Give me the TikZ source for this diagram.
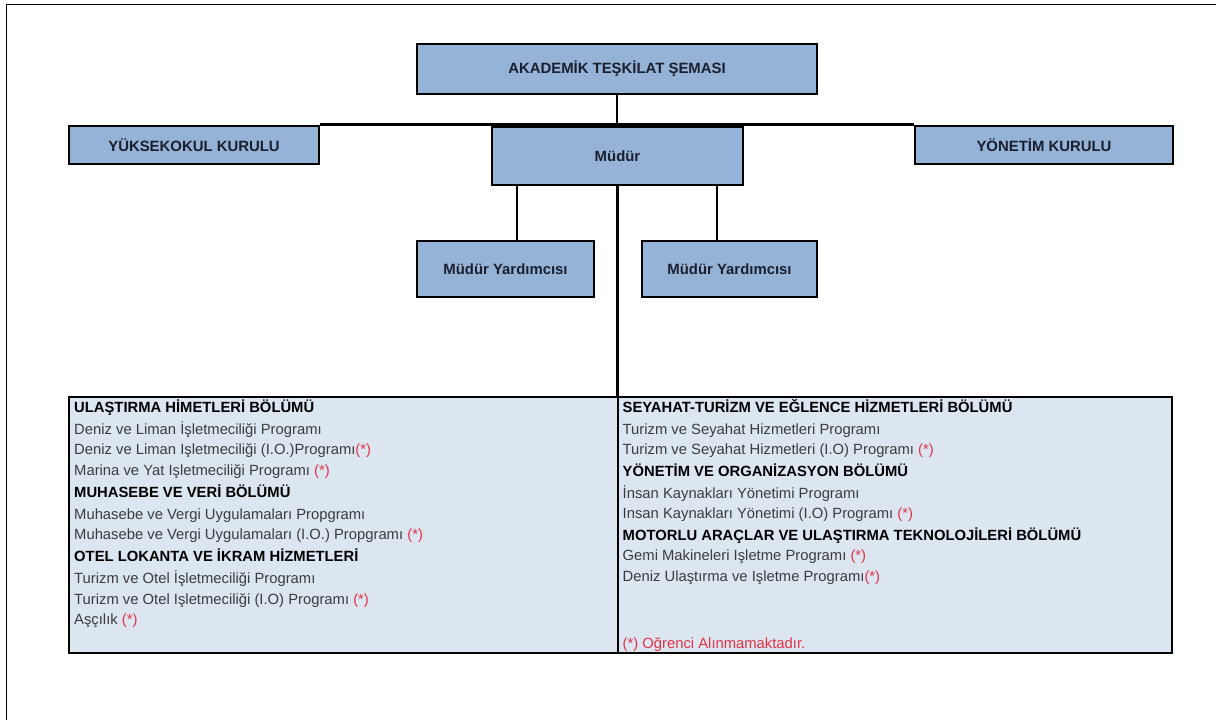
\documentclass[tikz,border=0pt]{standalone}
\usepackage{fontspec}
\setmainfont{Liberation Sans}
\definecolor{boxblue}{RGB}{149,179,215}
\definecolor{paleblue}{RGB}{220,230,241}
\definecolor{boxtext}{RGB}{26,31,46}
\definecolor{bodytext}{RGB}{60,60,60}
\definecolor{startred}{RGB}{226,50,70}
\begin{document}
\begin{tikzpicture}[x=1pt,y=-1pt,
  orgbox/.style={draw=black,line width=2.8pt,fill=boxblue,inner sep=0pt,
     text=boxtext,font=\fontsize{14.9}{17}\selectfont\bfseries},
  panel/.style={draw=black,line width=2.8pt,fill=paleblue,inner sep=0pt},
  link/.style={draw=black,line width=2.6pt},
  ln/.style={anchor=base west,inner sep=0pt,text=bodytext,font=\fontsize{14.8}{17}\selectfont},
  hd/.style={anchor=base west,inner sep=0pt,text=black,font=\fontsize{14.8}{17}\selectfont\bfseries}]
\useasboundingbox (0,0) rectangle (1216,720);
\fill[white] (0,0) rectangle (1216,720);
\draw[line width=1.5pt] (6.5,720) -- (6.5,4.3) -- (1216,4.3);

% boxes
\node[orgbox,minimum width=400pt,minimum height=50pt] (title) at (617,69) {AKADEMİK TEŞKİLAT ŞEMASI};
\node[orgbox,minimum width=250pt,minimum height=38pt] (yk) at (194,145) {YÜKSEKOKUL KURULU};
\node[orgbox,minimum width=251pt,minimum height=58pt] (mudur) at (617.5,156) {Müdür};
\node[orgbox,minimum width=258pt,minimum height=38pt] (yon) at (1044,145) {YÖNETİM KURULU};
\node[orgbox,minimum width=177pt,minimum height=56pt] (my1) at (505.5,269) {Müdür Yardımcısı};
\node[orgbox,minimum width=175pt,minimum height=56pt] (my2) at (729.5,269) {Müdür Yardımcısı};
\node[panel,minimum width=549pt,minimum height=256pt] (left) at (343.5,525) {};
\node[panel,minimum width=554pt,minimum height=256pt] (right) at (895,525) {};

% connectors
\coordinate (j1) at (517,241);
\coordinate (j2) at (717,241);
\draw[link] (yk.north east) -- (yon.north west);
\draw[link] (title.south) -- (title.south |- yk.north);
\draw[link] (j1 |- mudur.south) -- (j1);
\draw[link] (j2 |- mudur.south) -- (j2);
\draw[link] (mudur.south) -- (mudur.south |- left.north);

% left column
\node[hd] (l1) at (74,412) {ULAŞTIRMA HİMETLERİ BÖLÜMÜ};
\node[ln] (l2) at (74,434) {Deniz ve Liman İşletmeciliği Programı};
\node[ln] (l3) at (74,454) {Deniz ve Liman Işletmeciliği (I.O.)Programı\textcolor{startred}{(*)}};
\node[ln] (l4) at (74,475) {Marina ve Yat Işletmeciliği Programı \textcolor{startred}{(*)}};
\node[hd] (l5) at (74,497.5) {MUHASEBE VE VERİ BÖLÜMÜ};
\node[ln] (l6) at (74,519.5) {Muhasebe ve Vergi Uygulamaları Propgramı};
\node[ln] (l7) at (74,539) {Muhasebe ve Vergi Uygulamaları (I.O.) Propgramı \textcolor{startred}{(*)}};
\node[hd] (l8) at (74,561.5) {OTEL LOKANTA VE İKRAM HİZMETLERİ};
\node[ln] (l9) at (74,583.5) {Turizm ve Otel İşletmeciliği Programı};
\node[ln] (l10) at (74,604) {Turizm ve Otel Işletmeciliği (I.O) Programı \textcolor{startred}{(*)}};
\node[ln] (l11) at (74,624) {Aşçılık \textcolor{startred}{(*)}};

% right column
\node[hd] (r1) at (622.5,412) {SEYAHAT-TURİZM VE EĞLENCE HİZMETLERİ BÖLÜMÜ};
\node[ln] (r2) at (622.5,434) {Turizm ve Seyahat Hizmetleri Programı};
\node[ln] (r3) at (622.5,454) {Turizm ve Seyahat Hizmetleri (I.O) Programı \textcolor{startred}{(*)}};
\node[hd] (r4) at (622.5,476) {YÖNETİM VE ORGANİZASYON BÖLÜMÜ};
\node[ln] (r5) at (622.5,498) {İnsan Kaynakları Yönetimi Programı};
\node[ln] (r6) at (622.5,518) {Insan Kaynakları Yönetimi (I.O) Programı \textcolor{startred}{(*)}};
\node[hd] (r7) at (622.5,540) {MOTORLU ARAÇLAR VE ULAŞTIRMA TEKNOLOJİLERİ BÖLÜMÜ};
\node[ln] (r8) at (622.5,560) {Gemi Makineleri Işletme Programı \textcolor{startred}{(*)}};
\node[ln] (r9) at (622.5,581) {Deniz Ulaştırma ve Işletme Programı\textcolor{startred}{(*)}};
\node[ln,text=startred] (r10) at (622.5,648) {(*) Oğrenci Alınmamaktadır.};
\end{tikzpicture}
\end{document}
